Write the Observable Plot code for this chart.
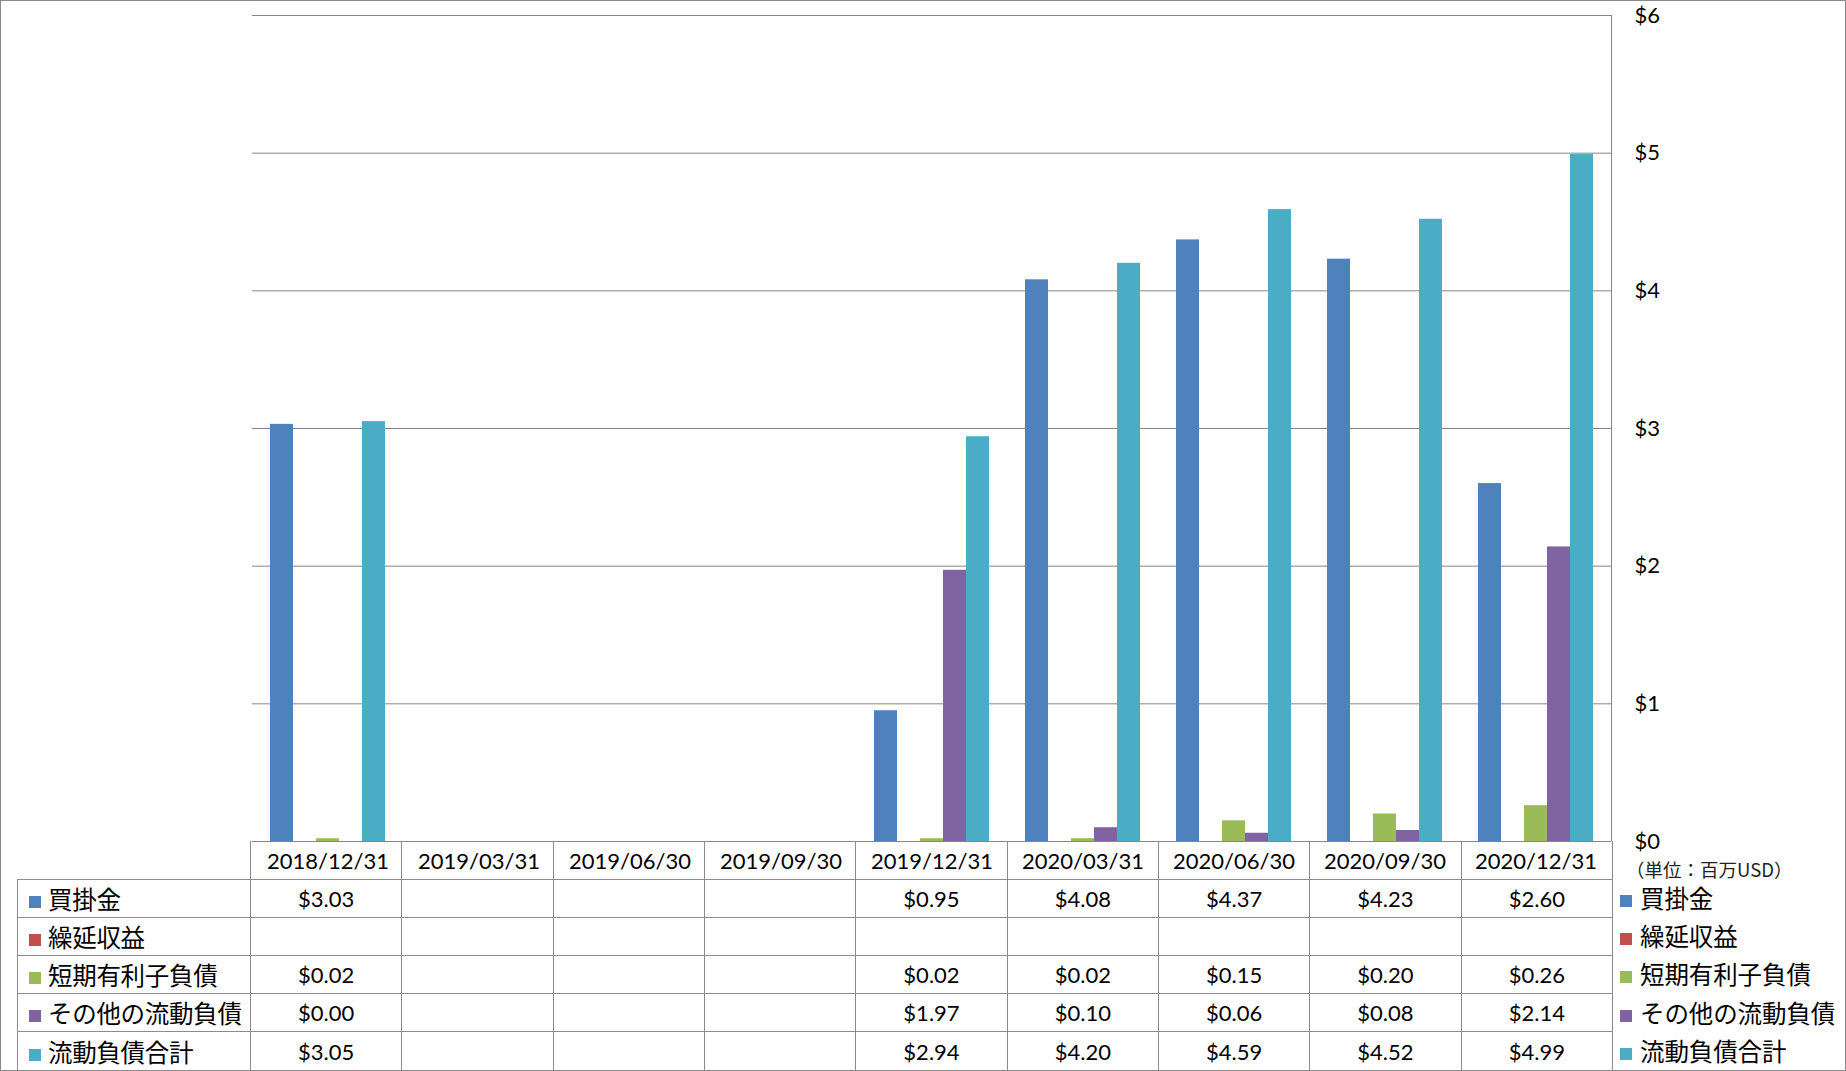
<!DOCTYPE html>
<html>
<head>
<meta charset="utf-8">
<script src="https://cdn.jsdelivr.net/npm/d3@7"></script>
<script src="https://cdn.jsdelivr.net/npm/@observablehq/plot@0.6"></script>
<style>
  html, body { margin: 0; padding: 0; background: #fff; }
  #root { position: relative; width: 1846px; height: 1071px; overflow: hidden; font-family: "Lato", "Noto Sans CJK JP", sans-serif; }
  #frame { position: absolute; left: 0; top: 0; width: 1846px; height: 1071px; box-sizing: border-box; border: 1px solid #8a8a8a; pointer-events: none; }
  #chart { position: absolute; left: 0; top: 0; }
  #rightline { position: absolute; left: 1611px; top: 15px; width: 0; height: 826px; border-left: 1px solid #868686; }
  table.dt { position: absolute; left: 17px; top: 841px; border-collapse: collapse; table-layout: fixed; }
  table.dt td { border: 1px solid #8c8c8c; height: 38.2px; padding: 0; text-align: center; font-size: 22px; color: #000; background: transparent; box-sizing: border-box; }
  table.dt td.lab { text-align: left; font-family: "Noto Sans CJK JP", sans-serif; font-size: 24.5px; padding-left: 11px; white-space: nowrap; letter-spacing: -0.3px; }
  table.dt tr.hdr td { border-top: none; }
  table.dt tr.hdr td.blank { border: none; }
  .sw { display: inline-block; width: 12px; height: 12px; margin-right: 7px; vertical-align: 1px; }
  #unit { position: absolute; left: 1626px; top: 856px; font-family: "Noto Sans CJK JP", sans-serif; font-size: 18.5px; color: #222; white-space: nowrap; }
  #rlegend { position: absolute; left: 1620px; top: 879px; }
  #rlegend div { height: 38.2px; line-height: 38.2px; font-family: "Noto Sans CJK JP", sans-serif; font-size: 24.5px; white-space: nowrap; letter-spacing: -0.1px; }
</style>
</head>
<body>
<div id="root">
  <div id="chart"></div>
  <div id="rightline"></div>
  <table class="dt" id="tbl"></table>
  <div id="unit">（単位：百万USD）</div>
  <div id="rlegend"></div>
  <div id="frame"></div>
</div>
<script>
const dates = ["2018/12/31","2019/03/31","2019/06/30","2019/09/30","2019/12/31","2020/03/31","2020/06/30","2020/09/30","2020/12/31"];
const seriesNames = ["買掛金","繰延収益","短期有利子負債","その他の流動負債","流動負債合計"];
const seriesColors = ["#4F81BD","#C0504D","#9BBB59","#8064A2","#4BACC6"];
const accountsPayable   = [3.03, null, null, null, 0.95, 4.08, 4.37, 4.23, 2.60];
const deferredRevenue   = [null, null, null, null, null, null, null, null, null];
const shortTermDebt     = [0.02, null, null, null, 0.02, 0.02, 0.15, 0.20, 0.26];
const otherCurrent      = [0.00, null, null, null, 1.97, 0.10, 0.06, 0.08, 2.14];
const totalCurrent      = [3.05, null, null, null, 2.94, 4.20, 4.59, 4.52, 4.99];
const yTicks = [0, 1, 2, 3, 4, 5, 6];

const seriesValues = [accountsPayable, deferredRevenue, shortTermDebt, otherCurrent, totalCurrent];
const rows = [];
seriesNames.forEach((s, i) => {
  dates.forEach((d, j) => {
    const v = seriesValues[i][j];
    if (v != null) rows.push({date: d, series: s, value: v});
  });
});
// gridlines for every date column (keeps every facet, even empty ones)
const gridRows = dates.flatMap(d => yTicks.map(t => ({date: d, tick: t})));

const chart = Plot.plot({
  width: 1846,
  height: 879,
  marginLeft: 250,
  marginRight: 234,
  marginTop: 15,
  marginBottom: 38,
  style: {fontSize: "22px", fontFamily: "Lato, 'Noto Sans CJK JP', sans-serif", color: "#000", background: "transparent"},
  fx: {domain: dates, padding: 0, axis: "bottom", tickSize: 0, tickPadding: 12, label: null},
  x: {domain: seriesNames, paddingInner: 0, paddingOuter: 0.75, axis: null},
  y: {domain: [0, 6], axis: "right", ticks: yTicks, tickSize: 0, tickPadding: 23, tickFormat: d => "$" + d, label: null},
  color: {domain: seriesNames, range: seriesColors},
  marks: [
    Plot.ruleY(gridRows, {fx: "date", y: "tick", stroke: "#868686", strokeWidth: 1}),
    Plot.barY(rows, {fx: "date", x: "series", y: "value", fill: "series", inset: 0})
  ]
});
document.getElementById("chart").appendChild(chart);

// data table
const tbl = document.getElementById("tbl");
const colg = document.createElement("colgroup");
const c0 = document.createElement("col"); c0.style.width = "233px"; colg.appendChild(c0);
dates.forEach(() => { const c = document.createElement("col"); c.style.width = (1362 / dates.length) + "px"; colg.appendChild(c); });
tbl.appendChild(colg);
const hdr = document.createElement("tr"); hdr.className = "hdr";
const b = document.createElement("td"); b.className = "blank"; hdr.appendChild(b);
dates.forEach(() => { const td = document.createElement("td"); hdr.appendChild(td); });
tbl.appendChild(hdr);
seriesNames.forEach((s, i) => {
  const tr = document.createElement("tr");
  const lab = document.createElement("td"); lab.className = "lab";
  lab.innerHTML = `<span class="sw" style="background:${seriesColors[i]}"></span>${s}`;
  tr.appendChild(lab);
  dates.forEach((d, j) => {
    const td = document.createElement("td");
    const v = seriesValues[i][j];
    td.textContent = v == null ? "" : "$" + v.toFixed(2);
    tr.appendChild(td);
  });
  tbl.appendChild(tr);
});

// right legend
const rl = document.getElementById("rlegend");
seriesNames.forEach((s, i) => {
  const div = document.createElement("div");
  div.innerHTML = `<span class="sw" style="background:${seriesColors[i]};margin-right:8px"></span>${s}`;
  rl.appendChild(div);
});
</script>
</body>
</html>
